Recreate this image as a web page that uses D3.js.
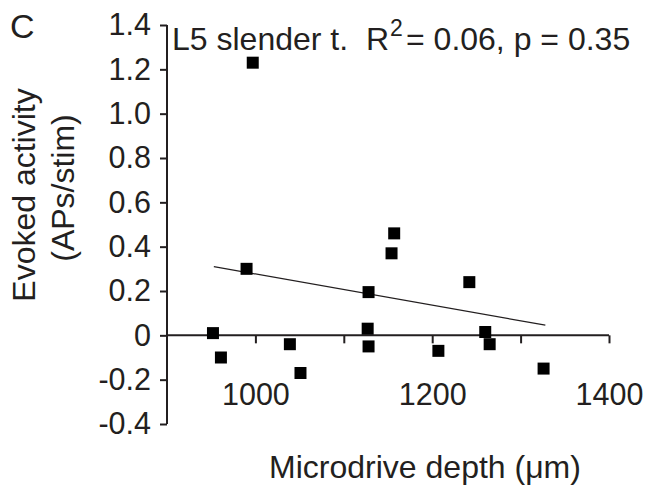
<!DOCTYPE html>
<html><head><meta charset="utf-8">
<script src="https://cdn.jsdelivr.net/npm/d3@7"></script>
<style>body{margin:0;background:#fff}svg{display:block}text{font-family:"Liberation Sans",Arial,sans-serif;fill:#231f20}</style>
</head><body>
<script>
const depth = [952, 961, 990, 997, 1039, 1051, 1127, 1128, 1128, 1154, 1157, 1207, 1242, 1260, 1265, 1326];
const evoked = [0.01, -0.10, 0.30, 1.23, -0.04, -0.17, 0.03, -0.05, 0.195, 0.37, 0.46, -0.07, 0.24, 0.015, -0.04, -0.15];
const fitX = [953, 1328];
const fitY = [0.31, 0.046];
const xTicks = [1000, 1100, 1200, 1300, 1400];
const xTickLabels = ["1000", "", "1200", "", "1400"];
const yTicks = [-0.4, -0.2, 0, 0.2, 0.4, 0.6, 0.8, 1.0, 1.2, 1.4];
const yTickLabels = ["-0.4", "-0.2", "0", "0.2", "0.4", "0.6", "0.8", "1.0", "1.2", "1.4"];

const W = 649, H = 491;
const svg = d3.select("body").append("svg").attr("width", W).attr("height", H);
const x = d3.scaleLinear().domain([900, 1400]).range([167, 609]);
const y = d3.scaleLinear().domain([-0.4, 1.4]).range([424, 25]);
const ink = "#231f20";

// y axis
const yAxis = svg.append("g").attr("transform", `translate(${x(900)},0)`)
  .call(d3.axisLeft(y).tickValues(yTicks).tickSize(7).tickPadding(9)
    .tickFormat((d, i) => yTickLabels[i]));
yAxis.select(".domain").attr("stroke", ink).attr("stroke-width", 2).attr("d", `M0,${y(-0.4)}V${y(1.4)}`);
yAxis.selectAll(".tick line").attr("stroke", ink).attr("stroke-width", 2);
yAxis.selectAll(".tick text").attr("font-size", 30.5).attr("fill", ink);

// x axis at y=0
const xAxis = svg.append("g").attr("transform", `translate(0,${y(0)})`)
  .call(d3.axisBottom(x).tickValues(xTicks).tickSize(8).tickPadding(38)
    .tickFormat((d, i) => xTickLabels[i]));
xAxis.select(".domain").attr("stroke", ink).attr("stroke-width", 2).attr("d", `M${x(900)},0H${x(1400)}`);
xAxis.selectAll(".tick line").attr("stroke", ink).attr("stroke-width", 2);
xAxis.selectAll(".tick text").attr("font-size", 30.5).attr("fill", ink).attr("dy", "0").attr("y", 70);

// fit line
svg.append("line")
  .attr("x1", x(fitX[0])).attr("y1", y(fitY[0]))
  .attr("x2", x(fitX[1])).attr("y2", y(fitY[1]))
  .attr("stroke", ink).attr("stroke-width", 1.2);

// points
svg.append("g").selectAll("path").data(depth).join("path")
  .attr("d", d3.symbol().type(d3.symbolSquare).size(144))
  .attr("transform", (d, i) => `translate(${x(d)},${y(evoked[i])})`)
  .attr("fill", "#000");

// title
const t = svg.append("text").attr("x", 172).attr("y", 50).attr("font-size", 32);
t.append("tspan").text("L5 slender t.");
t.append("tspan").attr("x", 366).text("R");
t.append("tspan").attr("x", 390).attr("dy", -14).attr("font-size", 23).text("2");
t.append("tspan").attr("x", 406).attr("dy", 14).text("= 0.06, p = 0.35");

// panel letter
svg.append("text").attr("x", 10).attr("y", 38).attr("font-size", 34).text("C");

// y label
svg.append("text").attr("transform", "translate(35,195) rotate(-90)").attr("text-anchor", "middle").attr("font-size", 32).text("Evoked activity");
svg.append("text").attr("transform", "translate(74,188) rotate(-90)").attr("text-anchor", "middle").attr("font-size", 32).text("(APs/stim)");

// x label
svg.append("text").attr("x", 425).attr("y", 478).attr("text-anchor", "middle").attr("font-size", 32).text("Microdrive depth (\u03bcm)");
</script>
</body></html>
